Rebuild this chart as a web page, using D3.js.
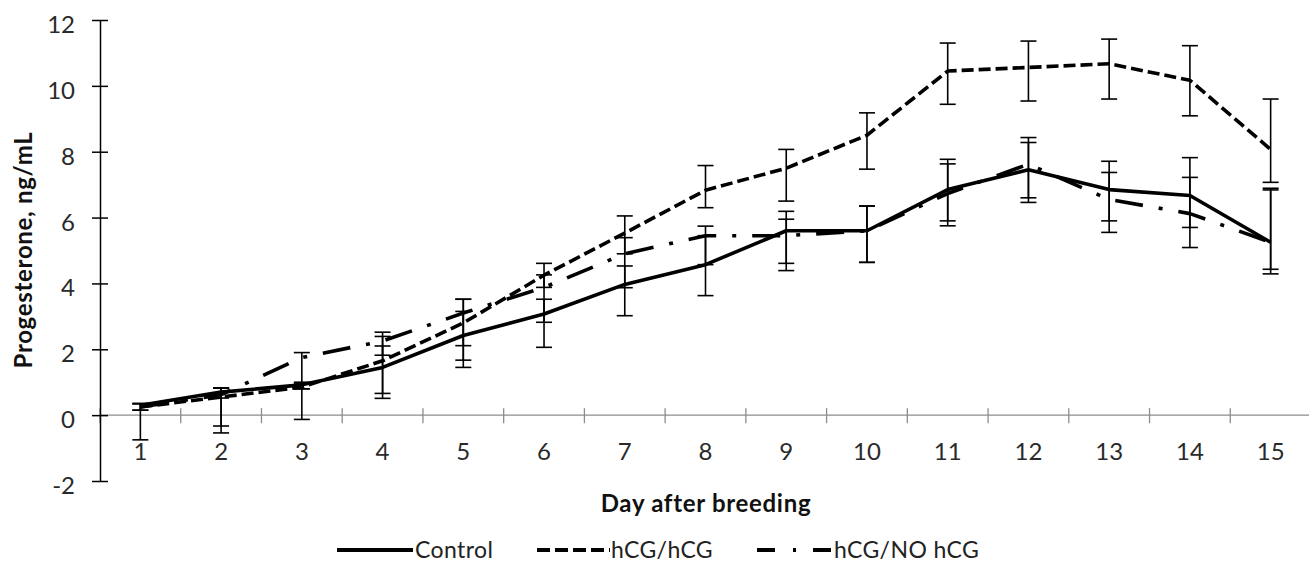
<!DOCTYPE html>
<html><head><meta charset="utf-8">
<script src="https://cdn.jsdelivr.net/npm/d3@7"></script>
<style>
body{margin:0;background:#fff}
svg{display:block}
text{font-family:Lato,"Open Sans",sans-serif}
</style>
</head><body>
<svg id="c" width="1309" height="564"></svg>
<script>
// ---- data ----
const days = [1,2,3,4,5,6,7,8,9,10,11,12,13,14,15];
const yTicks = [-2,0,2,4,6,8,10,12];
const seriesNames = ["Control","hCG/hCG","hCG/NO hCG"];

const control   = [0.30,0.70,0.92,1.45,2.42,3.07,3.97,4.57,5.60,5.60,6.85,7.45,6.85,6.67,5.25];
const controlUp = [0.05,0.13,0.08,0.94,0.73,0.45,0.56,0.88,0.59,0.75,0.92,0.83,0.86,1.15,1.64];
const controlDn = [1.05,1.03,1.05,0.94,0.97,1.01,0.95,0.94,0.99,0.96,0.95,0.99,0.95,0.97,0.82];

const hcgHcg    = [0.25,0.55,0.85,1.65,2.80,4.25,5.53,6.83,7.50,8.50,10.45,10.56,10.67,10.17,8.07];
const hcgHcgUp  = [0.10,0.28,0.10,0.45,0.72,0.36,0.52,0.75,0.57,0.68,0.85,0.80,0.75,1.05,1.53];
const hcgHcgDn  = [0.10,1.09,0.05,0.99,0.69,0.37,0.63,0.53,1.00,1.03,1.01,1.02,1.07,1.08,1.00];

const hcgNo     = [0.25,0.62,1.75,2.25,3.10,3.88,4.90,5.45,5.45,5.60,6.73,7.62,6.55,6.12,5.25];
const hcgNoUp   = [0.10,0.20,0.15,0.27,0.42,0.38,0.49,0.29,0.50,0.75,0.90,0.81,0.82,1.10,1.59];
const hcgNoDn   = [0.10,0.10,0.95,0.43,1.43,1.06,1.03,0.88,1.06,0.96,0.98,1.02,1.00,1.03,0.96];

// ---- layout ----
const svg = d3.select("#c");
const x = d3.scaleBand().domain(days).range([100, 1311]);
const y = d3.scaleLinear().domain([-2, 12]).range([481, 20]);
const cx = d => x(d) + x.bandwidth() / 2;

const styles = [
  {name: seriesNames[0], vals: control, up: controlUp, dn: controlDn, dash: null, legDash: null},
  {name: seriesNames[1], vals: hcgHcg, up: hcgHcgUp, dn: hcgHcgDn, dash: "12,5", legDash: "13,5"},
  {name: seriesNames[2], vals: hcgNo, up: hcgNoUp, dn: hcgNoDn, dash: "28,16,4,16", legDash: "18,18,3,17"}
];

// x axis (at y = 0)
const gx = svg.append("g").attr("transform", `translate(0,${y(0)})`);
gx.append("line").attr("x1", x.range()[0]).attr("x2", x.range()[1])
  .attr("stroke", "#8c8c8c").attr("stroke-width", 1.3);
gx.selectAll("line.bt").data(days.concat([null])).join("line").attr("class","bt")
  .attr("x1", d => d === null ? x.range()[1] : x(d))
  .attr("x2", d => d === null ? x.range()[1] : x(d))
  .attr("y1", -7).attr("y2", 8).attr("stroke", "#8c8c8c").attr("stroke-width", 1.3);
const xLab = svg.append("g").attr("transform", `translate(0,${y(0)})`)
  .call(d3.axisBottom(x).tickSize(0).tickPadding(28));
xLab.select(".domain").remove();
xLab.selectAll("text").attr("font-size", 24).attr("fill", "#2a2a2a").attr("font-family","Lato");

// y axis
const gy = svg.append("g").attr("transform", "translate(100,0)")
  .call(d3.axisLeft(y).tickValues(yTicks).tickFormat(d => String(d))
        .tickSize(8).tickSizeOuter(0).tickPadding(17));
gy.select(".domain").attr("stroke", "#000").attr("stroke-width", 1.5);
gy.selectAll(".tick line").attr("x1", 8).attr("stroke", "#000").attr("stroke-width", 1.5);
gy.selectAll(".tick text").attr("font-size", 24).attr("fill", "#2a2a2a").attr("dy", "0.52em")
  .attr("font-family","Lato");

// error bars
const capW = 8;
styles.forEach(s => {
  const g = svg.append("g");
  const pts = days.map((d, i) => ({d, v: s.vals[i], hi: s.vals[i] + s.up[i], lo: s.vals[i] - s.dn[i]}));
  g.selectAll("line.v").data(pts).join("line")
    .attr("x1", p => cx(p.d)).attr("x2", p => cx(p.d))
    .attr("y1", p => y(p.hi)).attr("y2", p => y(p.lo))
    .attr("stroke", "#000").attr("stroke-width", 1.6);
  ["hi", "lo"].forEach(k => {
    g.selectAll("line." + k).data(pts).join("line").attr("class", k)
      .attr("x1", p => cx(p.d) - capW).attr("x2", p => cx(p.d) + capW)
      .attr("y1", p => y(p[k])).attr("y2", p => y(p[k]))
      .attr("stroke", "#000").attr("stroke-width", 1.6);
  });
});

// lines
const line = d3.line().x((v, i) => cx(days[i])).y(v => y(v));
styles.forEach(s => {
  svg.append("path").attr("d", line(s.vals)).attr("fill", "none")
    .attr("stroke", "#000").attr("stroke-width", 3.6)
    .attr("stroke-linejoin", "round")
    .attr("stroke-dasharray", s.dash);
});

// axis titles
svg.append("text").attr("x", 706).attr("y", 512).attr("text-anchor", "middle")
  .attr("font-weight", "bold").attr("font-size", 24).attr("letter-spacing", 0.7).attr("fill", "#111")
  .text("Day after breeding");
svg.append("text").attr("transform", "translate(32,250) rotate(-90)").attr("text-anchor", "middle")
  .attr("font-weight", "bold").attr("font-size", 24).attr("letter-spacing", 0.7).attr("fill", "#111")
  .text("Progesterone, ng/mL");

// legend
const legItems = [
  {s: styles[0], x0: 337, x1: 413, tx: 415},
  {s: styles[1], x0: 537, x1: 610, tx: 611},
  {s: styles[2], x0: 757, x1: 832, tx: 834}
];
const leg = svg.append("g");
legItems.forEach(it => {
  leg.append("line").attr("x1", it.x0).attr("x2", it.x1).attr("y1", 550).attr("y2", 550)
    .attr("stroke", "#000").attr("stroke-width", 4).attr("stroke-dasharray", it.s.legDash);
  leg.append("text").attr("x", it.tx).attr("y", 558).attr("font-size", 23).attr("letter-spacing", 0.4)
    .attr("fill", "#222").text(it.s.name);
});
</script>
</body></html>
